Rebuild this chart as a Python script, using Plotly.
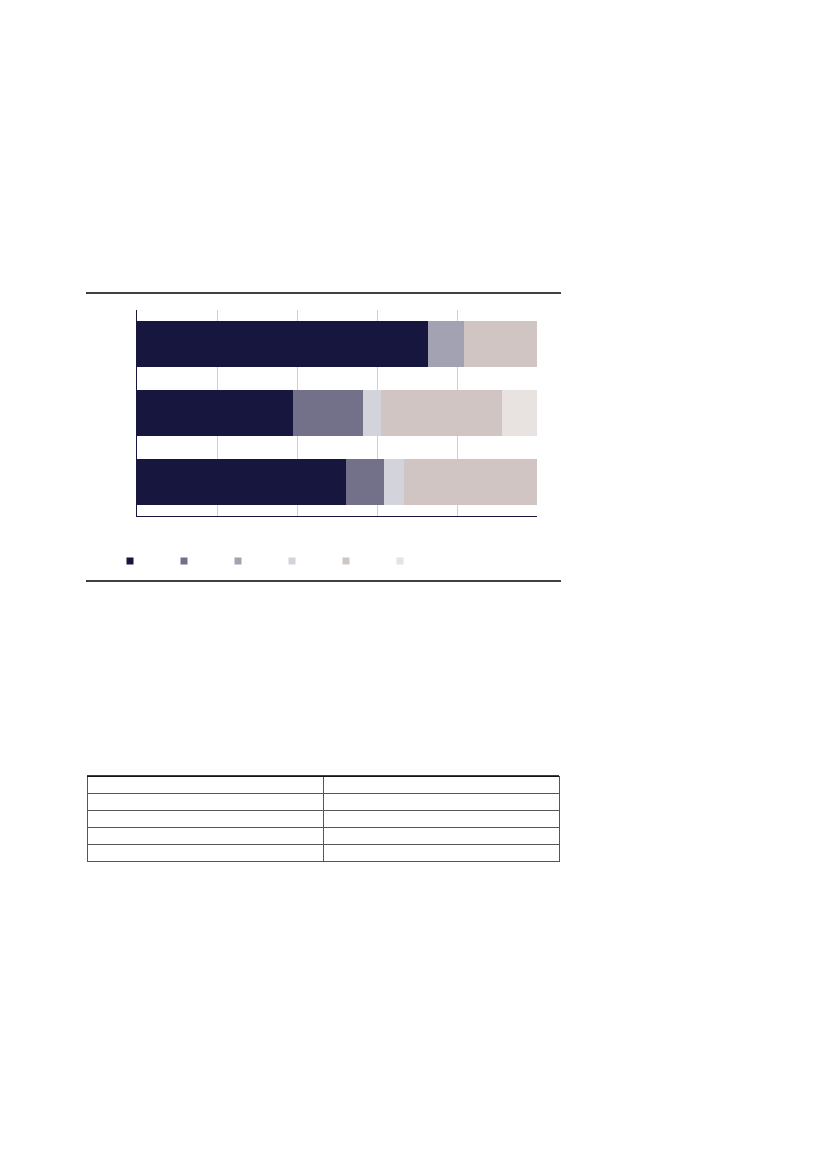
import plotly.graph_objects as go

# three rows of the stacked bar, top to bottom
categories = ["row 1", "row 2", "row 3"]
series_names = ["s1", "s2", "s3", "s4", "s5", "s6"]
series_colors = ["#17163e", "#727189", "#a3a2b3", "#d3d3dc", "#d1c5c3", "#e8e3e1"]
series_values = [
    [72.75, 39.0, 52.25],
    [0.0, 17.5, 9.6],
    [9.0, 0.0, 0.0],
    [0.0, 4.5, 4.8],
    [18.25, 30.25, 33.35],
    [0.0, 8.75, 0.0],
]
x_ticks = [0, 20, 40, 60, 80, 100]

# empty table below the chart
table_header = ["", ""]
table_rows = [["", "", "", ""], ["", "", "", ""]]

W, H = 827, 1169
PAGE_OFFSET = 8  # default body margin of the html page


def px_x(p):
    return (p - PAGE_OFFSET) / W


def px_y(p):
    return 1 - (p - PAGE_OFFSET) / H


fig = go.Figure()
for name, color, vals in zip(series_names, series_colors, series_values):
    fig.add_trace(go.Bar(
        y=categories, x=vals, orientation="h", width=0.67,
        marker=dict(color=color, line=dict(width=0)),
        showlegend=False, hoverinfo="skip",
    ))
    # small square legend entries
    fig.add_trace(go.Scatter(
        x=[None], y=[None], mode="markers", name="",
        marker=dict(symbol="square", size=7, color=color),
        showlegend=True,
    ))

fig.add_trace(go.Table(
    domain=dict(x=[px_x(87), px_x(559)], y=[px_y(863), px_y(776)]),
    header=dict(values=table_header, height=17, fill_color="white",
                line=dict(color="#555555", width=1)),
    cells=dict(values=table_rows, height=17, fill_color="white",
               line=dict(color="#555555", width=1)),
))

fig.update_layout(
    width=W, height=H,
    margin=dict(l=0, r=0, t=0, b=0),
    paper_bgcolor="white", plot_bgcolor="white",
    barmode="stack", bargap=0,
    font=dict(family="Liberation Sans", size=9),
    legend=dict(orientation="h", x=px_x(110), y=px_y(561), yanchor="middle",
                xanchor="left", entrywidth=9, itemwidth=30,
                traceorder="normal", bgcolor="rgba(0,0,0,0)"),
    shapes=[
        dict(type="line", xref="paper", yref="paper",
             x0=px_x(86), x1=px_x(561), y0=px_y(293), y1=px_y(293),
             line=dict(color="black", width=1.3)),
        dict(type="line", xref="paper", yref="paper",
             x0=px_x(86), x1=px_x(561), y0=px_y(581), y1=px_y(581),
             line=dict(color="black", width=1.3)),
        dict(type="line", xref="paper", yref="paper",
             x0=px_x(87), x1=px_x(559), y0=px_y(776), y1=px_y(776),
             line=dict(color="black", width=1.3)),
    ],
)
fig.update_xaxes(
    domain=[px_x(137), px_x(537)], range=[0, 100],
    tickvals=x_ticks, showticklabels=False, ticks="",
    showgrid=True, gridcolor="#cfcce6", gridwidth=1,
    showline=True, linecolor="#17163e", linewidth=1,
    zeroline=False, fixedrange=True,
)
fig.update_yaxes(
    domain=[px_y(516), px_y(310)],
    categoryorder="array", categoryarray=categories, autorange="reversed",
    showticklabels=False, ticks="", showgrid=False,
    showline=True, linecolor="#17163e", linewidth=1,
    zeroline=False, fixedrange=True,
)

fig.write_html("out.html")
